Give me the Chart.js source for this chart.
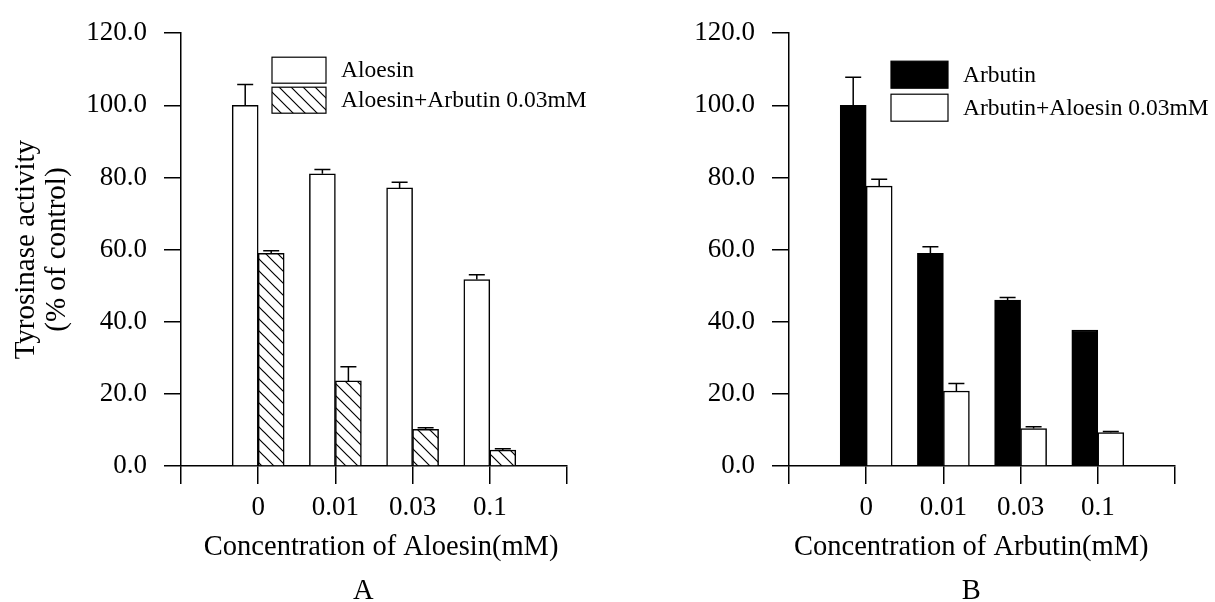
<!DOCTYPE html>
<html>
<head>
<meta charset="utf-8">
<script src="https://cdn.jsdelivr.net/npm/chart.js@4.4.0/dist/chart.umd.min.js"></script>
<style>
  html, body { margin: 0; padding: 0; background: #fff; }
  #wrap { position: relative; width: 1215px; height: 602px; }
  .panel { position: absolute; top: 0; height: 602px; }
  #panelA { left: 0; width: 600px; }
  #panelB { left: 600px; width: 615px; }
</style>
</head>
<body>
<div id="wrap">
  <div class="panel" id="panelA"><canvas id="chartA"></canvas></div>
  <div class="panel" id="panelB"><canvas id="chartB"></canvas></div>
</div>
<script>
// data
const concentrations = ['0', '0.01', '0.03', '0.1'];
const yTicks = [0, 20, 40, 60, 80, 100, 120];

const aloesin = [100.0, 81.0, 77.1, 51.7];
const aloesinErr = [5.8, 1.2, 1.6, 1.3];
const aloesinArbutin = [59.0, 23.6, 10.2, 4.4];
const aloesinArbutinErr = [0.7, 3.9, 0.4, 0.4];

const arbutin = [100.0, 59.0, 46.0, 37.7];
const arbutinErr = [7.8, 1.8, 0.7, 0];
const arbutinAloesin = [77.6, 20.8, 10.4, 9.3];
const arbutinAloesinErr = [1.9, 2.1, 0.5, 0.3];

const serif = "'Liberation Serif', 'Times New Roman', serif";
Chart.defaults.color = '#000';
Chart.defaults.font.family = serif;

// blank slot at both ends so the axis runs past the first and last group
const pad = arr => [null, ...arr, null];
const labels = ['', ...concentrations, ''];

function makeHatch() {
  const s = 12;
  const c = document.createElement('canvas');
  c.width = s; c.height = s;
  const g = c.getContext('2d');
  g.fillStyle = '#fff';
  g.fillRect(0, 0, s, s);
  g.strokeStyle = '#000';
  g.lineWidth = 1.2;
  g.beginPath();
  g.moveTo(-1, -1); g.lineTo(s + 1, s + 1);
  g.moveTo(-1, s - 1); g.lineTo(1, s + 1);
  g.moveTo(s - 1, -1); g.lineTo(s + 1, 1);
  g.stroke();
  return g.createPattern(c, 'repeat');
}

// upper error bars
const errorBars = {
  id: 'errorBars',
  afterDatasetsDraw(chart) {
    const ctx = chart.ctx;
    const y = chart.scales.y;
    ctx.save();
    ctx.strokeStyle = '#000';
    ctx.lineWidth = 1.5;
    chart.data.datasets.forEach((ds, i) => {
      chart.getDatasetMeta(i).data.forEach((bar, j) => {
        const v = ds.data[j], e = ds.errors[j];
        if (v == null || !e) return;
        const top = y.getPixelForValue(v + e);
        ctx.beginPath();
        ctx.moveTo(bar.x, bar.y);
        ctx.lineTo(bar.x, top);
        ctx.moveTo(bar.x - 8, top);
        ctx.lineTo(bar.x + 8, top);
        ctx.stroke();
      });
    });
    ctx.restore();
  }
};

// legend with big boxes inside the plot
const boxLegend = {
  id: 'boxLegend',
  afterDraw(chart, args, opts) {
    const { ctx, chartArea } = chart;
    const left = chartArea.left + opts.left;
    let top = chartArea.top + opts.top;
    ctx.save();
    chart.data.datasets.forEach(ds => {
      ctx.fillStyle = ds.backgroundColor;
      ctx.fillRect(left, top, opts.boxWidth, opts.boxHeight);
      ctx.strokeStyle = '#000';
      ctx.lineWidth = 1.2;
      ctx.strokeRect(left, top, opts.boxWidth, opts.boxHeight);
      ctx.fillStyle = '#000';
      ctx.font = '23.5px ' + serif;
      ctx.textBaseline = 'middle';
      ctx.fillText(ds.label, left + opts.boxWidth + 15, top + opts.boxHeight / 2 + 1);
      top += opts.boxHeight + opts.gap;
    });
    ctx.restore();
  }
};

function buildChart(id, datasets, xTitle, yTitle, yWidth, rightPad, legendPos) {
  new Chart(document.getElementById(id), {
    type: 'bar',
    data: { labels, datasets },
    plugins: [errorBars, boxLegend],
    options: {
      responsive: true,
      maintainAspectRatio: false,
      animation: false,
      layout: { padding: { left: 0, right: rightPad, top: 33, bottom: 0 } },
      plugins: {
        legend: { display: false },
        tooltip: { enabled: false },
        boxLegend: legendPos
      },
      scales: {
        x: {
          type: 'category',
          offset: false,
          grid: { offset: false, drawOnChartArea: false, tickLength: 18, color: '#000', lineWidth: 1.5 },
          border: { display: true, color: '#000', width: 1.5 },
          ticks: { font: { size: 27 }, padding: 8, maxRotation: 0, autoSkip: false },
          title: {
            display: true,
            text: xTitle,
            font: { size: 28.5, lineHeight: 1.55 },
            padding: { top: 0, bottom: -12 }
          },
          afterFit: s => { s.height = 136; }
        },
        y: {
          min: 0,
          max: 120,
          afterBuildTicks: s => { s.ticks = yTicks.map(v => ({ value: v })); },
          grid: { drawOnChartArea: false, tickLength: 17, color: '#000', lineWidth: 1.5 },
          border: { display: true, color: '#000', width: 1.5 },
          ticks: { font: { size: 27 }, padding: 17, callback: v => Number(v).toFixed(1) },
          title: yTitle
            ? { display: true, text: yTitle, font: { size: 29, lineHeight: 1.1 }, padding: { top: 10, bottom: 0 } }
            : { display: false },
          afterFit: s => { s.width = yWidth; }
        }
      }
    }
  });
}

const barStyle = { borderColor: '#000', borderWidth: 1.5, barThickness: 26 };

// spaces nudge the centred titles to where they sit in the figure
buildChart('chartA', [
  { label: 'Aloesin', data: pad(aloesin), errors: pad(aloesinErr), backgroundColor: '#fff', ...barStyle },
  { label: 'Aloesin+Arbutin 0.03mM', data: pad(aloesinArbutin), errors: pad(aloesinArbutinErr), backgroundColor: makeHatch(), ...barStyle }
], ['  Concentration of Aloesin(mM)', 'A   '], ['Tyrosinase activity', '(% of control)'], 181, 33,
  { left: 91, top: 24, boxWidth: 54, boxHeight: 26, gap: 4 });

buildChart('chartB', [
  { label: 'Arbutin', data: pad(arbutin), errors: pad(arbutinErr), backgroundColor: '#000', ...barStyle },
  { label: 'Arbutin+Aloesin 0.03mM', data: pad(arbutinAloesin), errors: pad(arbutinAloesinErr), backgroundColor: '#fff', ...barStyle }
], ['Concentration of Arbutin(mM)   ', 'B   '], null, 189, 40,
  { left: 102, top: 28, boxWidth: 57, boxHeight: 27, gap: 6 });
</script>
</body>
</html>
